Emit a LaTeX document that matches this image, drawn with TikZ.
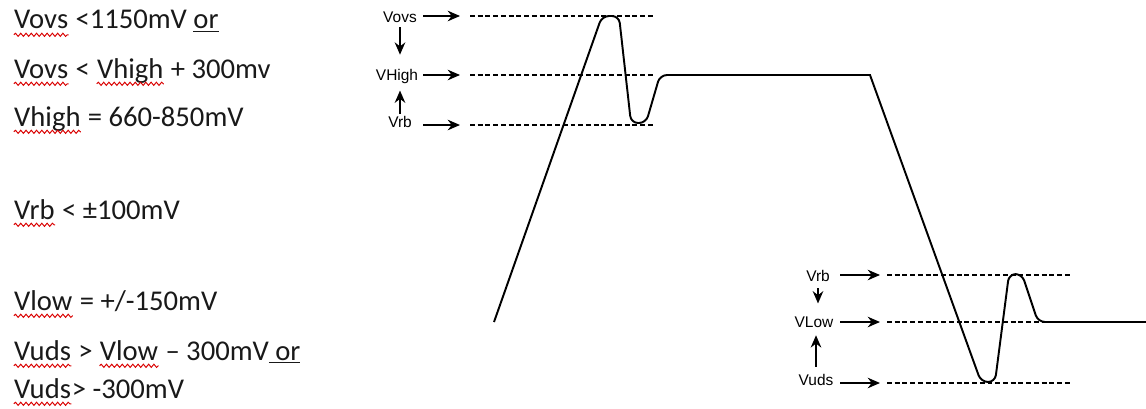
\documentclass[tikz,border=0pt]{standalone}
\usepackage{fontspec}
\setmainfont{Carlito}
\newfontfamily\arialfont{Liberation Sans}
\usetikzlibrary{arrows.meta,decorations.pathmorphing}

% red spell-check wave under a word
\newcommand\spellchk[1]{\tikz[baseline=(sw.base)]{\node[inner sep=0pt, anchor=center] (sw) {#1};
  \draw[red!85!black, line width=0.55pt, decorate, decoration={snake, amplitude=0.9pt, segment length=3pt}]
    ([yshift=-3.3pt]sw.base west) -- ([yshift=-3.3pt]sw.base east);}}

\begin{document}
\begin{tikzpicture}
  [x=0.02cm, y=-0.02cm,
   lbl/.style={inner sep=1pt, text height=6.2pt, text depth=1.8pt, anchor=base,
     text=black, font=\arialfont\fontsize{8.8}{10}\selectfont},
   txt/.style={inner sep=0pt, anchor=base west, text=black!90, font=\fontsize{16.3}{19}\selectfont},
   arr/.style={-{Stealth[length=7pt,width=6pt]}, line width=1.05pt},
   guide/.style={dash pattern=on 2.8pt off 1.6pt, line width=0.9pt},
   wave/.style={line width=1.1pt}]

  \useasboundingbox (0,0) rectangle (1146,409);

  %%%%%%%%%%%%%%%%%%%%%% LIMITS TEXT %%%%%%%%%%%%%%%%%%%%%%

   \node[txt] (t1) at (13,29)  {\spellchk{Vovs} <1150mV \underline{or}};
   \node[txt] (t2) at (13,78)  {\spellchk{Vovs} < \spellchk{Vhigh} + 300mv};
   \node[txt] (t3) at (13,126) {\spellchk{Vhigh} = 660-850mV};
   \node[txt] (t4) at (13,219) {\spellchk{Vrb} < ±100mV};
   \node[txt] (t5) at (13,310) {\spellchk{Vlow} = +/-150mV};
   \node[txt] (t6) at (13,360) {\spellchk{Vuds} > \spellchk{Vlow} – 300mV\underline{\ or}};
   \node[txt] (t7) at (13,398) {\spellchk{Vuds}> -300mV};

  %%%%%%%%%%%%%%%%%%%%%% HIGH LEVELS %%%%%%%%%%%%%%%%%%%%%%

   \node[lbl] (ovsH)  at (400,22)  {Vovs};
   \node[lbl] (highH) at (397,80)  {VHigh};
   \node[lbl] (rbH)   at (400,127) {Vrb};

   \coordinate (ovsA)  at (423,16);  \coordinate (ovsB)  at (460,16);
   \coordinate (ovsC)  at (470,16);  \coordinate (ovsD)  at (653,16);
   \coordinate (highA) at (423,75);  \coordinate (highB) at (460,75);
   \coordinate (highC) at (470,75);  \coordinate (highD) at (653,75);
   \coordinate (rbHA)  at (423,125); \coordinate (rbHB)  at (460,125);
   \coordinate (rbHC)  at (470,125); \coordinate (rbHD)  at (653,125);

  %%%%%%%%%%%%%%%%%%%%%% LOW LEVELS %%%%%%%%%%%%%%%%%%%%%%

   \node[lbl] (rbL)  at (818,281) {Vrb};
   \node[lbl] (lowL) at (814,327) {VLow};
   \node[lbl] (udsL) at (816,385) {Vuds};

   \coordinate (rbLA)  at (840,275); \coordinate (rbLB)  at (880,275);
   \coordinate (rbLC)  at (887,275); \coordinate (rbLD)  at (1070,275);
   \coordinate (lowLA) at (840,322); \coordinate (lowLB) at (880,322);
   \coordinate (lowLC) at (887,322); \coordinate (lowLD) at (1070,322);
   \coordinate (udsLA) at (840,383); \coordinate (udsLB) at (880,383);
   \coordinate (udsLC) at (887,383); \coordinate (udsLD) at (1070,383);

   \foreach \fromlv/\tolv in {ovsA/ovsB,highA/highB,rbHA/rbHB,rbLA/rbLB,lowLA/lowLB,udsLA/udsLB}
    \draw[arr] (\fromlv) -- (\tolv);

   \foreach \fromlv/\tolv in {ovsC/ovsD,highC/highD,rbHC/rbHD,rbLC/rbLD,lowLC/lowLD,udsLC/udsLD}
    \draw[guide] (\fromlv) -- (\tolv);

   \draw[arr, shorten >=7pt] (ovsH.south) -- (ovsH.south |- highH.north);
   \draw[arr, shorten >=3pt] (rbH.north) -- (rbH.north |- highH.south);
   \draw[arr, shorten <=1pt, shorten >=6pt] (rbL.south) -- (rbL.south |- lowL.north);
   \draw[arr, shorten <=3pt, shorten >=1.7pt] (udsL.north) -- (udsL.north |- lowL.south);

  %%%%%%%%%%%%%%%%%%%%%% WAVEFORM %%%%%%%%%%%%%%%%%%%%%%

   \draw[wave] (494,322) [rounded corners=4pt] -- (602,16) -- (619,16) -- (631,123) -- (646,123) -- (660,75)
     [sharp corners] -- (870,75) [rounded corners=4pt] -- (981,382) -- (995,382) -- (1009,274) -- (1022,274)
     -- (1038,322) -- (1146,322);

\end{tikzpicture}
\end{document}
